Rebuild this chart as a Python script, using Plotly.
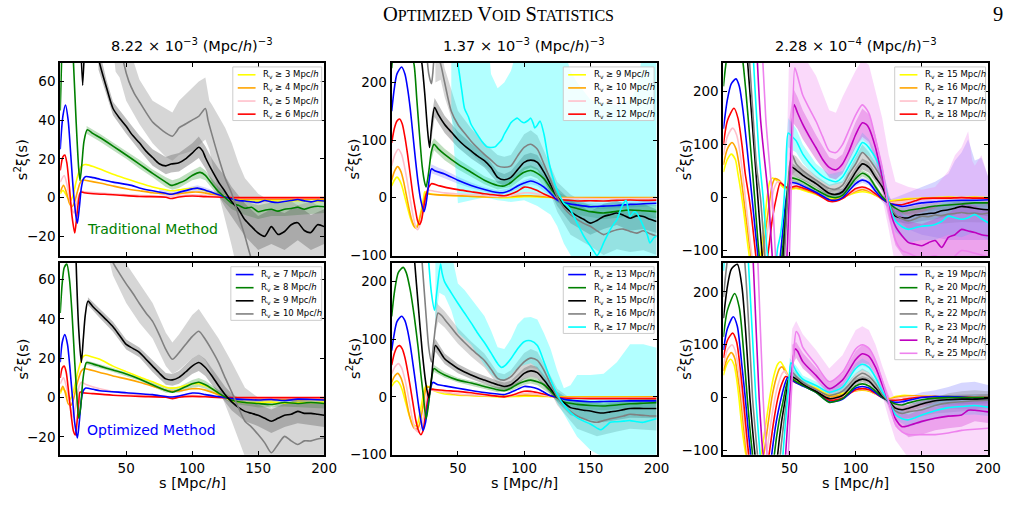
import plotly.graph_objects as go

W, H = 1026, 505

# ---------------- colours ----------------
COLORS = {'yellow': '#FFFF00', 'orange': '#FFA500', 'pink': '#FFC0CB', 'red': '#FF0000',
          'blue': '#0000FF', 'green': '#008000', 'black': '#000000', 'gray': '#808080',
          'cyan': '#00FFFF', 'magenta': '#BF00BF', 'violet': '#EE82EE'}

# ---------------- text ----------------
HEADER = 'O<span style="font-size:16px">PTIMIZED</span> V<span style="font-size:16px">OID</span> S<span style="font-size:16px">TATISTICS</span>'
PAGE_NO = '9'
COL_TITLES = ['8.22 × 10<sup>−3</sup> (Mpc/<i>h</i>)<sup>−3</sup>',
              '1.37 × 10<sup>−3</sup> (Mpc/<i>h</i>)<sup>−3</sup>',
              '2.28 × 10<sup>−4</sup> (Mpc/<i>h</i>)<sup>−3</sup>']
YLABEL = 's<sup>2</sup>ξ(s)'
XLABEL = 's [Mpc/<i>h</i>]'
X_TICKS = [50, 100, 150, 200]
Y_TICKS_1 = [-20, 0, 20, 40, 60]
Y_TICKS_23 = [-100, 0, 100, 200]

TL_RADII = [3, 4, 5, 6]
BL_RADII = [7, 8, 9, 10]
TM_RADII = [9, 10, 11, 12]
BM_RADII = [13, 14, 15, 16, 17]
TR_RADII = [15, 16, 17, 18]
BR_RADII = [19, 20, 21, 22, 23, 24, 25]

# ================= top-left (traditional, 8.22e-3) =================
TL_YELLOW = [(0,2),(2,3.7),(4,2),(6,-0.5),(8,-1.4),(10,2),(12,8),(14,13),(16,16),(18,17),(20,17),(25,16),(30,14.7),(40,12),(50,9.7),(60,7.5),(70,5.5),(80,4),(85,3.5),(90,4),(100,4.8),(105,4.6),(110,3.5),(120,1.5),(130,-0.5),(140,-1.5),(150,-1.8),(160,-1.5),(170,-2),(180,-1.5),(190,-2),(200,-1.8)]
TL_ORANGE = [(0,3),(2.5,6.3),(5,2),(7,-3),(9,-4.7),(11,-2),(13,3),(15,7.5),(17,9.2),(20,8.8),(30,7.5),(40,6),(50,4.6),(60,3.5),(70,2.5),(80,2),(85,1.8),(90,2),(100,2.8),(105,2.8),(110,2.3),(120,1),(130,-0.3),(140,-0.8),(160,-0.8),(180,-0.8),(200,-0.8)]
TL_PINK = [(0,8),(3,11.4),(5,7),(7,0),(9,-6),(10.5,-8),(12,-4),(14,1),(16,3.2),(20,2.8),(30,2.3),(50,1.5),(80,0.6),(100,1.5),(110,1.2),(130,0),(150,-0.2),(200,-0.2)]
TL_RED = [(0,14),(2,21),(3.5,22),(5,18),(7,5),(9,-10),(11,-18.3),(12.5,-10),(14,-1),(15.5,2.9),(18,2.5),(25,2),(40,1.5),(60,0.6),(80,0.2),(84,-0.5),(90,0.3),(100,0.8),(110,0.5),(130,0),(150,0),(200,0)]
TL_BLUE = [(0,25),(2,42),(4,47.8),(6,40),(8,22),(10,3),(12,-10),(13,-13.2),(14.5,-5),(16,5),(17.5,9.5),(19,10.8),(25,10.3),(30,9.5),(40,8),(54,6.3),(60,5),(70,3.5),(80,2.2),(84,1.7),(90,2.7),(100,4.5),(104,4.9),(110,3.8),(120,1.5),(129,-0.5),(135,-1.5),(140,-1.8),(150,-2.5),(155,-1.5),(160,-2.2),(165,-2.5),(170,-2),(175,-1.5),(180,-1),(185,-1.7),(190,-2.2),(195,-1.5),(200,-1.8)]
TL_GREEN = [(0,45),(2,95),(4,125),(6,120),(8,95),(10,70),(12,40),(14,15),(15,8.8),(16.5,18),(18,29),(20.5,35),(25,33),(30,31),(40,26.6),(50,22),(60,17.3),(70,12.5),(80,8),(84,6.3),(90,7.5),(95,9),(100,11.4),(106,13),(110,11.5),(115,7.1),(120,3),(125,0),(130,-3),(135,-4),(140,-5.5),(145,-5),(150,-7.3),(155,-6.5),(160,-6),(165,-7),(170,-6),(175,-5.6),(180,-5),(185,-6),(190,-5),(195,-4.5),(200,-4.7)]
TL_BLACK = [(0,150),(5,250),(10,220),(13,150),(15,90),(17,58),(18.5,80),(20,120),(25,100),(29,72),(35,57),(40,46),(45,41),(50,36.8),(55,32),(60,28.3),(65,24),(70,20.7),(75,17.5),(80,16.4),(84,17.3),(90,18),(95,20),(100,23),(105,26),(108,24),(110,20.7),(115,14),(120,8),(125,3),(130,-2.2),(135,-6),(140,-11.5),(145,-15),(150,-18.3),(155,-20),(160,-15),(165,-19),(170,-17.5),(175,-14),(180,-13),(185,-17),(190,-18),(195,-14),(200,-15)]
TL_GRAY = [(30,140),(40,100),(45,85),(48,70),(52,60),(56,54),(60,49.5),(65,44),(70,39),(75,36),(80,33.4),(85,31.7),(88,34),(90,36),(95,38),(100,40),(105,42),(110,46),(112,40),(115,32.5),(120,20.7),(125,10),(130,2),(135,-9),(140,-20),(145,-32),(150,-40),(160,-45),(170,-42),(180,-48),(190,-44),(200,-46)]
TL_BLUE_BAND = [(75,1.5,4.5),(84,0.5,3),(90,1.2,4.2),(100,3,6),(104,3.4,6.4),(110,2.4,5.2),(120,0.5,2.5)]
TL_GREEN_BAND = [(20,33,37),(30,29,33),(40,24.5,28.5),(50,20,24),(60,15,19.5),(70,10.5,14.5),(80,5.5,10.5),(85,4,9),(90,5,10),(100,9,14),(106,10,16),(110,9,14),(115,4.5,9.5),(120,0.5,5.5),(130,-6,0),(140,-9,-2),(150,-11,-4),(160,-9.5,-2.5),(170,-9.5,-2.5),(180,-9,-1),(190,-8.5,-1.5),(200,-8,-1.5)]
TL_BLACK_BAND = [(29,66,78),(35,53,61),(40,42.5,49.5),(50,33,40.5),(60,24.5,32),(70,16.5,25),(80,12,21),(84,13,22),(90,13.5,23),(100,18,28),(105,20.5,31.5),(110,15,26.5),(115,8,20),(120,1,15),(125,-5,11),(130,-10,5.5),(140,-20,-3),(150,-27,-9.5),(160,-24,-6),(170,-27,-8),(180,-22,-4),(190,-27,-9),(200,-24,-6)]
TL_GRAY_BAND = [(38,90,140),(42,65,130),(45,62,115),(50,50,82),(60,38,61),(70,28,50),(80,21,46),(85,19,44),(90,22,50),(100,24,57),(105,27,60),(110,30,62),(113,25,50),(115,18,48),(120,2,42),(125,-12,36),(130,-25,28),(135,-40,18),(140,-50,10),(150,-70,2),(160,-75,-2),(170,-70,0),(180,-78,-4),(190,-75,-2),(200,-78,-6)]

# ================= bottom-left (optimized, 8.22e-3) =================
BL_YELLOW = [(0,2),(2,4.5),(4,3),(6,0),(7,-1),(9,1),(11,6),(13,12),(15,17),(17,20.5),(19,21.5),(25,20.5),(30,19.5),(40,16),(50,13.2),(60,10.5),(70,8),(80,5.3),(85,4.8),(90,5.3),(100,7),(105,7),(110,6),(115,4.5),(120,2),(125,0),(130,-1.5),(140,-2.5),(150,-2.5),(160,-2.3),(170,-2.8),(180,-2.5),(190,-2.5),(200,-2.2)]
BL_ORANGE = [(0,3),(2,5.8),(4,2),(6,-3),(8,-4),(10,-1),(12,5),(14,10),(16,13.5),(18,14.8),(22,14.2),(30,12.8),(40,11),(50,9.5),(60,7.8),(70,5.8),(80,3.7),(85,3.2),(90,3.4),(100,4.5),(105,4.5),(110,3.8),(120,1.5),(125,0),(130,-0.5),(150,-1),(200,-1)]
BL_PINK = [(0,7),(2.5,10),(4.5,6),(6.5,-1),(8.5,-7),(10,-10),(11.5,-5),(13,1),(14.5,6),(16,7.8),(20,6.5),(30,4.5),(50,2),(80,0.6),(85,0.4),(100,1.2),(110,0.8),(125,0),(150,-0.3),(200,-0.3)]
BL_RED = [(0,10),(1.5,15),(3,16),(4.5,13),(6.5,2),(8.5,-10),(10,-17),(11.5,-19),(12.5,-14),(14,-3),(15,2.8),(17,2.5),(25,2),(40,1.2),(60,0.6),(80,0.2),(85,-0.5),(90,0.2),(100,0.6),(110,0.4),(125,0),(150,0),(200,0)]
BL_BLUE = [(0,18),(1.5,28),(3.5,32),(5.5,27),(7.5,14),(9.5,-2),(11,-13),(13,-20.5),(14.5,-12),(16,-1),(17.5,3.5),(19,4.8),(25,4.2),(30,3.5),(50,2.5),(70,1.5),(84,0.3),(90,0.8),(100,2.3),(105,2.2),(110,1.5),(120,0.5),(125,0),(130,-0.5),(140,-1),(150,-1.2),(160,-1),(170,-1.5),(180,-0.8),(190,-1),(200,-1.2)]
BL_GREEN = [(0,43),(1.5,58),(3,66),(5,67.8),(7,60),(9,42),(11,18),(12.5,2),(14,-10.5),(15.5,-5),(17,8),(18.5,15),(20,17.8),(25,17),(30,16),(40,14),(50,12),(60,9.5),(70,6.5),(80,3.7),(85,2.8),(90,4),(95,5.5),(100,7),(105,7.8),(110,6.5),(115,4.5),(120,2.3),(125,0.3),(130,-1.3),(140,-2.5),(150,-3),(160,-3.5),(170,-2.5),(180,-3),(190,-2.5),(200,-3)]
BL_BLACK = [(0,120),(4,200),(8,180),(11,100),(12,70),(14,35),(16,17.8),(17.5,30),(19,42),(21,49),(25,46),(30,42.8),(35,39.5),(40,36),(45,31.5),(50,27),(55,25),(60,23),(65,19.5),(70,16),(75,12.5),(80,9.5),(85,9),(90,10.3),(95,13),(100,16),(105,17.8),(110,15.3),(115,11),(120,6),(125,1.5),(130,-2.2),(135,-5),(140,-7),(145,-8),(150,-9),(155,-10.5),(160,-12),(165,-10.5),(170,-9),(175,-8.5),(180,-7),(185,-8),(190,-8),(195,-8.5),(200,-9)]
BL_GRAY = [(25,130),(30,110),(35,85),(39,70),(45,63),(50,57.8),(55,53),(60,47.8),(65,43),(70,38.7),(75,32),(80,24.5),(85,19.5),(90,22.8),(95,27),(100,31),(105,33.7),(110,29.5),(115,24),(120,17.8),(125,10),(130,2.8),(135,-5),(140,-12),(145,-15),(150,-18.8),(155,-23),(160,-28),(165,-23.8),(170,-19.7),(175,-22),(180,-23.8),(185,-22),(190,-22),(195,-21),(200,-20.5)]
BL_GREEN_BAND = [(20,16.8,18.8),(40,13,15),(60,8.5,10.5),(80,2.5,5),(90,2.5,5.5),(100,5,9),(105,5.5,10),(110,4.5,8.5),(120,0.8,3.8),(130,-3,0.4),(150,-5,-1),(170,-4.5,-0.5),(200,-5.5,-0.5)]
BL_BLACK_BAND = [(21,47,51),(30,40.5,45),(40,33.5,38.5),(50,24.5,29.5),(60,20.5,25.5),(70,13,19),(80,6.5,12.5),(85,6,12),(90,7,13.5),(100,12,20),(105,13.5,22),(110,11,19.5),(120,2,10),(125,-2.5,5.5),(130,-6.5,2),(140,-12,-2),(150,-14.5,-3.5),(160,-18,-6),(170,-15,-3),(180,-13,-1),(190,-14,-2),(200,-15,-3)]
BL_GRAY_BAND = [(35,75,100),(40,62,82),(50,48,68),(60,38,58),(70,30,48),(80,16,33),(85,12,28),(90,14,32),(100,20,42),(105,22,45),(110,19,40),(120,5,30),(130,-12,18),(140,-30,5),(150,-40,0),(160,-48,-5),(170,-42,-2),(180,-46,-3),(190,-44,-2),(200,-43,-1)]

# ================= top-middle (traditional, 1.37e-3) =================
TM_YELLOW = [(0,20),(2,30),(4,35.4),(6,30),(8,18),(10,0),(12,-18),(14,-35),(16,-47),(18,-53),(20,-45),(22,-25),(24,-2),(25,9.7),(27,8),(30,6),(40,4),(50,3),(60,2),(80,0),(85,-0.5),(90,0),(100,1.5),(105,1.5),(110,1),(120,0),(125,-0.5),(150,-0.5),(200,-0.5)]
TM_ORANGE = [(0,30),(2,45),(4.5,53.7),(7,45),(9,28),(11,5),(13,-18),(15,-38),(17,-50),(18.5,-53),(20,-48),(22,-30),(24,-10),(26,6.9),(28,6),(35,4.5),(50,3),(80,1),(100,3),(105,3),(115,1.5),(125,0),(150,0),(200,0)]
TM_PINK = [(0,55),(2.5,75),(5,84),(7.5,75),(10,50),(12,25),(14,-3),(16,-30),(18,-50),(19.5,-56),(21,-50),(23,-30),(25,-10),(26.5,5),(28,12.6),(32,11),(40,8),(50,6),(70,3.5),(80,2),(85,1.8),(90,3),(100,8),(105,8),(110,6),(120,2),(125,-1),(140,-2),(200,-2)]
TM_RED = [(0,95),(2,120),(4,133),(6,136.6),(8,128),(10,105),(12,75),(14,40),(16,5),(18,-22),(19.5,-40),(21,-47),(22.5,-40),(24,-20),(26,5),(28,18),(30,24),(35,21),(40,18),(50,13.7),(60,10),(70,6.5),(80,4),(85,3),(90,6),(95,11),(100,18),(105,16.6),(110,12),(115,6),(120,1),(125,-3.4),(130,-4.5),(140,-6),(150,-5.7),(160,-6),(170,-5),(180,-4.5),(190,-5),(200,-4.6)]
TM_BLUE = [(0,150),(2,190),(4,215),(7.5,227),(10,215),(12,190),(14,155),(16,110),(18,65),(20,25),(22,-5),(24.4,-24.6),(26,-10),(28,25),(30,49.7),(33,46),(40,41),(50,30),(60,21),(70,14),(80,8.6),(85,8.6),(90,13),(95,20),(100,25),(105,28.6),(110,25),(115,18),(120,7),(125,-4.6),(130,-9),(140,-13),(150,-16),(160,-15),(170,-14),(175,-13),(180,-12),(190,-11),(200,-10)]
TM_GREEN = [(0,225),(3,290),(7,320),(11,300),(14,260),(17,230),(19,170),(21,110),(23,55),(25,25),(26,18.3),(28,45),(30,80),(32,92.6),(35,85),(40,75),(50,58),(60,44),(70,30),(80,21),(85,20),(90,26),(95,36),(100,44),(105,47),(110,42),(115,32.6),(120,16),(125,1),(130,-10),(135,-16),(140,-19),(150,-24.6),(160,-27),(170,-24),(180,-21.7),(190,-23),(200,-24.6)]
TM_BLACK = [(0,300),(10,400),(18,330),(21,260),(23,230),(25,180),(27,120),(28.6,86.9),(30,120),(32.4,156.6),(35,145),(40,127),(45,114),(50,101),(55,90),(60,81),(65,72),(70,64),(75,52),(80,35),(85,30.9),(90,35),(95,48),(100,61),(105,65),(110,61),(115,44),(120,22),(125,1),(130,-14),(135,-24.6),(140,-32),(145,-38),(150,-44.6),(155,-40),(160,-33),(165,-30),(170,-27),(175,-31),(180,-36),(185,-32),(190,-33),(195,-38),(200,-41.7)]
TM_GRAY = [(0,400),(20,400),(26,260),(28,215),(30,198),(31,215),(33,260),(37,232),(40,200),(45,150),(50,127),(55,112),(60,98),(65,86),(70,75),(75,65),(80,55),(85,52.6),(90,55),(95,72),(100,87),(105,92.6),(110,84),(115,58),(120,30),(125,1),(130,-18),(135,-30),(140,-38),(145,-45),(150,-50),(155,-58),(160,-64.6),(165,-60),(170,-56),(175,-55),(180,-59),(185,-62),(190,-58),(195,-63),(200,-67)]
TM_CYAN = [(35,400),(45,300),(50,233),(53,185),(55,155),(58,140),(60,127),(64,112),(68,98),(72,88),(75,87),(78,88),(80,92.6),(83,100),(85,110),(88,122),(90,130),(93,136),(95,138),(98,132),(100,130),(103,134),(105,138),(107,128),(108,121),(110,126),(112,133),(115,110),(118,70),(121,40),(125,12.6),(128,-2),(130,-10),(133,-15),(135,-21.7),(138,-35),(140,-44.6),(143,-58),(145,-67),(148,-78),(150,-84.6),(153,-95),(155,-101),(158,-90),(160,-79),(163,-65),(165,-56),(168,-45),(170,-39),(173,-20),(175,-10),(177,-5),(180,-33),(183,-25),(185,-27),(188,-40),(190,-50),(193,-65),(195,-79),(198,-70),(200,-67)]
TM_BLUE_BAND = [(28,15,35),(30,42,58),(35,38,52),(40,34,48),(50,24,36),(60,16,26),(70,10,18),(80,5,12),(90,9,17),(100,20,30),(105,23,34),(110,20,30),(120,2,12),(125,-9,0),(140,-18,-8),(160,-20,-10),(180,-17,-7),(200,-15,-5)]
TM_GREEN_BAND = [(30,65,95),(32,82,103),(40,65,85),(50,49,67),(60,36,52),(70,23,37),(80,14,28),(90,18,34),(100,35,53),(105,38,56),(110,33,51),(120,6,26),(125,-8,10),(140,-30,-8),(160,-38,-16),(180,-33,-10),(200,-36,-13)]
TM_BLACK_BAND = [(30,100,140),(32.4,140,173),(40,112,142),(50,87,115),(60,68,94),(70,52,76),(80,25,45),(85,21,41),(90,24,46),(100,48,74),(105,52,78),(110,48,74),(120,8,36),(125,-15,17),(135,-45,-5),(150,-65,-24),(160,-55,-11),(170,-48,-6),(180,-58,-14),(190,-55,-11),(200,-62,-21)]
TM_GRAY_BAND = [(33,200,330),(37,205,260),(40,175,225),(50,103,151),(60,76,120),(70,55,95),(80,36,74),(85,34,71),(90,36,74),(100,64,110),(105,68,117),(110,60,108),(120,5,55),(125,-25,27),(135,-65,5),(150,-85,-15),(160,-100,-30),(170,-90,-22),(180,-95,-23),(190,-92,-24),(200,-100,-34)]
TM_CYAN_BAND = [(45,150,400),(50,-10,400),(60,-5,400),(70,0,350),(75,-2,215),(80,-5,190),(85,-6,200),(90,-8,220),(95,-6,260),(100,-5,300),(110,-15,320),(120,-30,300),(125,-50,300),(130,-80,260),(135,-100,220),(140,-130,200),(150,-140,170),(160,-140,165),(170,-140,160),(180,-140,170),(185,-140,190),(190,-140,260),(200,-140,260)]

# ================= bottom-middle (optimized, 1.37e-3) =================
BM_YELLOW = [(0,18),(2,25),(4,28),(6,23),(8,12),(10,-5),(12,-22),(14,-37),(16,-47),(18.5,-50),(20,-43),(22,-20),(24,5),(25,15),(26,19),(28,17),(30,13),(35,8),(40,5),(50,3),(60,2),(80,0),(100,1),(110,1),(125,0),(200,0)]
BM_ORANGE = [(0,25),(2,35),(4.5,40.7),(7,33),(9,18),(11,-5),(13,-28),(15,-45),(17,-54),(19.5,-55),(21,-48),(23,-25),(25,5),(26,15),(28,17),(30,14),(40,8),(50,4),(80,1.5),(100,3),(110,2.5),(125,0),(200,0)]
BM_PINK = [(0,40),(2.5,52),(5,57.6),(7.5,50),(10,30),(12,8),(14,-18),(16,-42),(18,-57),(20.5,-61),(22,-55),(24,-35),(26,-5),(27,8),(28,12.4),(32,11),(40,8),(50,5),(70,2.5),(80,1),(85,0.5),(90,2),(100,6),(105,6),(110,4.5),(120,1),(125,-1),(140,-2),(200,-2)]
BM_RED = [(0,55),(2,75),(4,86),(6,88.7),(8,83),(10,68),(12,45),(14,18),(16,-10),(18,-38),(20,-57),(22,-65.5),(23.5,-60),(25,-40),(27,-8),(29,12.4),(31,13),(40,11),(50,9.6),(60,7),(70,4),(80,1),(85,0),(90,2.5),(100,9.6),(105,9.6),(110,7.5),(120,2),(125,-1),(130,-2),(150,-3),(200,-3)]
BM_BLUE = [(0,80),(2,110),(4,130),(7.5,139.5),(10,132),(12,115),(14,90),(16,58),(18,25),(20,-10),(22,-40),(23.7,-58),(25.5,-45),(27,-20),(29,10),(31,25),(35,21),(40,19),(50,15),(60,11),(70,7.5),(80,5),(85,4),(90,8),(95,13),(100,18),(105,17),(110,14),(115,8),(120,2),(125,-1),(130,-4),(140,-7),(150,-8.5),(160,-8),(170,-7.5),(180,-7),(190,-7),(200,-7)]
BM_GREEN = [(0,139),(2,180),(5,215),(8.7,224),(11,215),(14,185),(17,140),(20,85),(22,40),(24,0),(26,-38),(28,-10),(30,30),(32,49),(35,44),(40,38),(50,29),(60,24),(70,18),(80,12.4),(85,10.7),(90,15),(95,22),(100,26.5),(105,29),(110,26),(115,21),(120,10),(125,-1.7),(130,-9),(140,-13),(150,-15),(160,-15.8),(170,-14),(180,-12),(190,-11),(200,-10)]
BM_BLACK = [(0,350),(10,420),(15,300),(17.4,232),(20,160),(23,80),(26,20),(28,-1.7),(30,30),(33,88.7),(36,80),(40,66),(45,57),(50,49),(55,43),(60,38),(65,33),(70,29),(75,25),(80,21),(85,18),(90,21),(95,30),(100,40.7),(105,45),(110,42),(115,29),(120,14),(125,0),(130,-10),(135,-18.6),(140,-21),(145,-23),(150,-24.3),(155,-27),(160,-28),(165,-26),(170,-24.3),(175,-22),(180,-20),(190,-20),(200,-20)]
BM_GRAY = [(0,450),(15,450),(20,320),(23,232),(26,140),(28,85),(30,60.5),(32,100),(35,145),(38,140),(40,134),(45,120),(50,105.6),(55,94),(60,83),(65,73),(70,63),(75,48),(80,32),(85,29),(90,35),(95,48),(100,60.5),(105,67),(110,63),(115,46),(120,22),(125,0),(130,-15),(135,-25),(140,-33),(145,-38),(150,-42),(155,-44),(160,-41),(165,-38),(170,-35.6),(175,-33),(180,-30),(185,-31),(190,-32),(195,-33),(200,-33)]
BM_CYAN = [(20,450),(26,300),(28,232),(30,180),(32.4,150),(34,180),(36.9,230),(38,215),(40,199),(45,180),(50,162),(55,145),(60,128),(65,110),(70,94),(75,76),(80,57.6),(83,51),(86,55),(90,66),(95,83),(100,95.5),(105,97),(110,88.7),(115,60.5),(120,30),(125,4),(130,-14),(135,-27),(140,-36),(145,-42),(150,-47),(155,-54),(158,-57),(162,-50),(165,-44),(170,-43),(175,-42),(180,-41),(185,-43),(190,-44),(195,-41),(200,-38)]
BM_GREEN_BAND = [(32,43,55),(40,33,43),(50,25,33),(60,20,28),(80,8,17),(90,10,20),(100,21,32),(105,23,35),(110,20,32),(120,4,16),(125,-7,4),(140,-20,-6),(160,-23,-9),(180,-19,-5),(200,-17,-3)]
BM_BLACK_BAND = [(31,50,90),(33,78,100),(40,57,75),(50,41,57),(60,31,45),(70,22,36),(80,14,28),(85,11,25),(90,14,28),(100,31,50),(105,35,55),(110,32,52),(120,5,23),(125,-9,9),(135,-32,-5),(150,-40,-9),(160,-44,-12),(170,-40,-9),(180,-36,-4),(190,-36,-4),(200,-37,-3)]
BM_GRAY_BAND = [(33,110,170),(35,130,160),(40,120,148),(50,92,119),(60,70,96),(70,51,75),(80,22,42),(85,19,39),(90,24,46),(100,45,76),(105,51,83),(110,48,78),(120,8,36),(125,-14,14),(140,-55,-11),(155,-68,-20),(160,-65,-17),(170,-60,-11),(180,-55,-5),(190,-57,-7),(200,-58,-8)]
BM_CYAN_BAND = [(33,130,300),(36,180,300),(40,175,300),(45,150,250),(50,111,196),(55,100,185),(60,90,170),(70,55,140),(75,40,115),(80,29,86),(85,28,83),(90,38,100),(95,50,125),(100,55,137),(105,58,138),(110,50,134),(115,32,110),(120,15,83),(125,-10,45),(130,-30,15),(135,-50,20),(140,-69,38),(150,-92,38),(160,-105,40),(170,-110,60),(180,-110,91),(190,-110,91),(200,-110,85)]

# ================= top-right (traditional, 2.28e-4) =================
TR_YELLOW = [(0,48),(3,72),(6,82),(9,72),(11,45),(13,15),(15,-20),(17,-60),(19,-100),(22,-140),(25,-145),(28,-110),(31,-50),(33,0),(35,30),(37,37),(40,33),(43,25),(46,18),(50,16),(55,17),(60,14),(65,10),(70,6),(75,1),(80,-2),(85,-2),(90,1),(95,5),(100,9),(105,11),(110,9),(115,4),(120,-2),(125,-6),(130,-5),(135,-3),(140,-2),(150,-1),(160,0),(170,1),(180,0),(190,1),(200,0)]
TR_ORANGE = [(0,62),(3,92),(6.5,104),(9.5,92),(12,60),(14,25),(16,-15),(18,-55),(20,-95),(23,-140),(26,-150),(29,-120),(32,-60),(35,-5),(37,25),(39,36),(42,33),(45,24),(48,18),(50,18),(55,19),(60,16),(70,7),(80,-4),(85,-4),(90,0),(100,12),(105,15),(110,12),(115,5),(120,-3),(125,-8),(130,-7),(135,-5),(140,-4),(150,-2),(160,-1),(170,0),(180,-1),(190,0),(200,-1)]
TR_PINK = [(0,80),(3,115),(7,131),(10,118),(12.5,85),(15,35),(17,-10),(19,-55),(21,-100),(24,-150),(27,-160),(30,-130),(33,-70),(36,-15),(38,15),(41,30),(44,27),(47,20),(50,20),(55,21),(60,18),(70,8),(80,-5),(85,-6),(90,-1),(100,14),(105,18),(110,14),(115,6),(120,-3),(125,-9),(130,-9),(135,-8),(140,-6),(150,-3),(160,-2),(170,-2),(180,-2),(190,-2),(200,-2)]
TR_RED = [(0,100),(3,145),(8,168.5),(11,150),(14,100),(16.5,45),(19.4,0),(21,-30),(23,-75),(25,-120),(28,-160),(31,-150),(34,-100),(37,-40),(40,0),(43,28),(46,22),(49,18),(52,20),(55,22),(60,18),(70,8),(80,-7),(85,-7),(90,-2),(100,17),(105,20),(110,16),(115,7),(120,-3),(125,-10),(130,-13),(135,-13.6),(140,-10),(145,-6),(150,-2),(160,-1),(170,-1),(180,0),(190,-1),(200,-1)]
TR_BLUE = [(0,130),(3,185),(6,215),(9.5,224),(12,210),(15,160),(18,90),(21.6,0),(24,-60),(27,-130),(30,-180),(34,-200),(38,-180),(42,-130),(45,-60),(47,-10),(49,20),(51,28),(55,27),(60,22),(70,10),(80,-4),(85,-5),(90,0),(100,26.5),(105,33),(110,28),(115,12),(120,-2),(125,-10),(130,-14),(135,-16.7),(140,-15),(145,-12),(150,-10),(160,-8),(170,-6),(180,-5),(190,-5),(200,-4)]
TR_GREEN = [(0,210),(3,270),(7,300),(11,300),(14,270),(17,200),(20,110),(23.6,0),(26,-80),(30,-180),(34,-230),(38,-220),(42,-160),(45,-90),(47,-30),(49,25),(51,37),(55,35),(60,29.6),(70,15),(80,2),(85,0),(90,4),(100,36),(105,46),(110,39),(115,20),(120,2),(125,-10),(130,-20),(135,-26),(140,-24),(145,-22),(150,-20),(160,-16),(170,-14),(180,-12),(190,-10),(200,-10)]
TR_BLACK = [(0,260),(4,340),(8,380),(12,380),(16,320),(20,200),(23,100),(26,0),(29,-100),(33,-220),(37,-260),(41,-230),(44,-150),(47,-50),(49,20),(51,58),(55,52),(60,42),(70,26.5),(80,8),(85,6),(90,11),(95,28),(100,48),(105,63.6),(110,57),(115,38),(120,20),(125,-10),(130,-35),(135,-38),(140,-38),(145,-33),(150,-32),(155,-30),(160,-29),(165,-25),(170,-23),(175,-20),(180,-16.7),(185,-18),(190,-20),(195,-22),(200,-23)]
TR_GRAY = [(0,300),(5,420),(10,470),(14,430),(18,320),(22,170),(25,60),(28,0),(31,-100),(35,-230),(39,-280),(43,-230),(46,-120),(48,-20),(50,60),(52,80),(55,63.6),(60,51),(70,33),(80,17),(85,16),(90,23),(95,45),(100,63.6),(105,85),(110,73),(115,55),(120,33),(125,-10),(130,-32),(135,-40),(140,-44),(145,-40),(150,-35),(155,-36),(160,-33),(165,-34),(170,-31),(175,-30),(180,-28),(185,-30),(190,-29),(195,-31),(200,-29)]
TR_CYAN = [(0,350),(5,500),(10,560),(15,520),(20,380),(24,200),(27,80),(30,0),(33,-100),(36,-170),(39,-140),(41,-95),(43,-72),(45,-30),(47,40),(49,122),(52,115),(55,107),(60,82),(65,65),(70,51),(75,40),(80,33),(85,30),(90,39),(95,60),(100,82),(105,104),(108,100),(110,94),(115,75),(120,45),(125,-10),(130,-44),(135,-55),(140,-60),(145,-57),(150,-54),(155,-53),(160,-50.6),(165,-45),(170,-35),(175,-38),(180,-41),(185,-38),(190,-32),(195,-40),(200,-47.5)]
TR_MAGENTA = [(0,450),(8,700),(16,700),(22,450),(28,150),(34,0),(38,-150),(42,-250),(46,-200),(49,-50),(51,80),(53.5,175),(56,160),(60,138),(65,115),(70,94),(75,72),(80,57),(85,52.5),(90,63.6),(95,88),(100,119),(105,141),(108,138),(110,131),(115,94),(120,39),(125,-17),(130,-54),(135,-72),(140,-85),(145,-88),(150,-91),(155,-85),(160,-81),(165,-94),(170,-75),(175,-70),(180,-60),(185,-63),(190,-66),(195,-70),(200,-72)]
TR_VIOLET = [(0,600),(10,900),(18,850),(25,500),(32,150),(37,0),(42,-200),(47,-250),(50,-100),(52,100),(54,245),(57,220),(60,193),(65,168),(70,144),(75,115),(80,88),(85,85),(90,100),(95,128),(100,156),(105,175),(110,159),(115,110),(120,57),(125,-23),(130,-80),(135,-100),(140,-105),(150,-115),(160,-110),(170,-120),(180,-100),(190,-105),(200,-112)]
TR_BLUE_BAND = [(50,24,36),(60,17,27),(80,-8,0),(100,21,32),(105,28,38),(110,23,33),(120,-8,4),(125,-20,-4),(130,-35,0),(140,-60,10),(150,-70,20),(160,-75,30),(170,-80,45),(175,-80,70),(180,-80,85),(185,-80,110),(190,-80,70),(195,-80,75),(200,-80,40)]
TR_GREEN_BAND = [(50,30,44),(60,24,35),(70,10,20),(80,-3,7),(90,-1,9),(100,30,42),(105,40,52),(110,33,45),(120,-3,7),(125,-15,-5),(135,-33,-19),(150,-27,-13),(170,-21,-7),(200,-17,-3)]
TR_BLACK_BAND = [(50,45,68),(60,33,51),(70,19,34),(80,2,14),(90,5,17),(100,38,58),(105,53,74),(110,47,67),(120,12,28),(125,-17,-3),(130,-45,-25),(140,-50,-26),(150,-44,-20),(160,-41,-17),(170,-35,-11),(180,-29,-5),(190,-32,-8),(200,-35,-11)]
TR_GRAY_BAND = [(50,40,85),(55,50,78),(60,40,62),(70,25,41),(80,10,24),(90,15,31),(100,50,77),(105,70,100),(110,60,86),(120,22,44),(125,-20,0),(130,-45,-19),(140,-60,-28),(150,-52,-18),(160,-50,-16),(170,-48,-14),(180,-46,-10),(190,-47,-11),(200,-47,-11)]
TR_CYAN_BAND = [(47,0,80),(49,95,150),(55,85,130),(60,65,100),(70,38,64),(80,22,44),(90,28,50),(100,65,100),(105,85,123),(110,78,110),(120,30,60),(125,-25,5),(130,-65,-25),(140,-85,-35),(150,-80,-28),(160,-80,-20),(170,-70,0),(180,-75,-5),(190,-65,0),(200,-80,-15)]
TR_MAGENTA_BAND = [(50,-50,150),(53,140,205),(56,130,190),(60,110,165),(70,72,118),(80,38,76),(85,34,72),(90,45,82),(100,95,143),(105,115,168),(110,105,157),(115,70,118),(120,18,60),(125,-40,5),(130,-90,-20),(140,-125,-45),(150,-130,-50),(160,-125,-40),(170,-120,-30),(180,-110,-10),(190,-115,-15),(200,-120,-25)]
TR_VIOLET_BAND = [(48,-150,100),(50,-60,300),(53,150,350),(55,170,300),(60,130,270),(70,90,230),(80,45,165),(85,42,160),(90,55,190),(100,100,240),(105,110,260),(110,100,250),(115,60,200),(120,0,150),(125,-60,80),(130,-130,30),(140,-200,20),(150,-200,15),(160,-200,20),(170,-200,50),(175,-200,80),(180,-200,95),(185,-200,125),(188,-200,70),(190,-200,60),(195,-200,80),(200,-200,40)]

# ================= bottom-right (optimized, 2.28e-4) =================
BR_YELLOW = [(0,42),(2.5,63),(5.5,72.6),(8,62),(10,35),(11.7,0),(13.5,-45),(15.5,-85),(17.5,-115),(20,-145),(23,-155),(26,-135),(29,-100),(32,-50),(35,0),(38,40),(41,63),(43,67.7),(46,57),(49,42),(52,35),(55,30),(60,26),(70,18),(80,5),(90,8),(100,13),(105,14),(110,12),(115,7),(120,2),(125,-2),(130,2),(135,4),(140,4),(150,3),(160,2),(170,2),(180,1),(190,1),(200,1)]
BR_ORANGE = [(0,50),(3,75),(6,85),(8.5,75),(11,38),(13,0),(15,-50),(17,-95),(19.5,-140),(23,-165),(27,-150),(30.5,-108),(34,-45),(37,5),(40,38),(42.5,55),(44.5,58),(47,48),(50,38),(52,35),(55,30),(60,25),(70,16),(80,2),(90,5),(100,13),(105,15),(110,13),(115,7),(120,1),(125,-3),(130,0),(135,2),(140,3),(150,3),(160,2),(170,1),(180,1),(190,0),(200,0)]
BR_PINK = [(0,60),(3,90),(6.5,100),(9,88),(12,42),(14,0),(16,-52),(18,-100),(21,-150),(25,-175),(29,-160),(32.5,-108),(36,-45),(39,0),(42,30),(44.5,46),(46.5,50),(49,40),(52,33),(55,29),(60,24),(70,14),(80,-2),(90,2),(100,14),(105,16),(110,14),(115,7),(120,0),(125,-4),(130,-2),(135,0),(140,1),(150,2),(160,2),(170,1),(180,1),(190,0),(200,0)]
BR_RED = [(0,75),(3,108),(7,122),(10,105),(13,48),(15,0),(17,-55),(19,-105),(22.5,-170),(27,-190),(31,-165),(34.5,-108),(38,-45),(41,-3),(44,25),(47,40),(49.5,37),(52,32),(55,28),(60,23),(70,12),(80,-5),(90,-1),(100,15),(105,17),(110,15),(115,8),(120,0),(125,-5),(130,-5),(135,-4),(140,-2),(150,1),(160,2),(170,1),(180,1),(190,0),(200,0)]
BR_BLUE = [(0,90),(3,130),(7.5,153),(10.5,135),(14,60),(16.5,0),(18.5,-55),(20.5,-105),(24.5,-185),(29.5,-210),(33.5,-180),(36.5,-108),(40,-45),(43,-8),(46,22),(48.5,38),(50.5,36),(53,31),(55,28),(60,22),(70,10),(80,-8),(90,-3),(100,18),(105,21),(110,18),(115,9),(120,0),(125,-6),(130,-9),(135,-8),(140,-5),(150,0),(160,2),(170,2),(180,1),(190,0),(200,0)]
BR_GREEN = [(0,115),(3,165),(8.5,197),(12,170),(15.5,80),(18,0),(20,-58),(22,-108),(26.5,-205),(31.5,-230),(36,-190),(38.5,-108),(42,-45),(45,-8),(47.5,22),(49.5,36),(52,35),(55,30),(60,23),(70,10),(80,-9),(90,-2),(100,22),(105,26),(110,22),(115,12),(120,1),(125,-6),(130,-12),(135,-14),(140,-10),(150,-4),(160,-1),(170,0),(180,0),(190,0),(200,0)]
BR_BLACK = [(0,150),(3,210),(6,243),(10.5,252),(14,210),(17.5,100),(20,0),(22,-60),(24,-112),(29,-230),(34,-250),(38.5,-190),(41,-108),(44,-45),(47,0),(49,28),(50.5,40),(53,38),(55,35),(60,26),(70,12),(80,-2),(90,4),(100,30),(105,35),(110,31),(115,18),(120,3),(125,-7),(130,-20),(135,-23),(140,-20),(150,-12),(160,-6),(170,-4),(180,-3),(190,-3),(200,-2)]
BR_GRAY = [(0,190),(4,280),(8,325),(12,330),(16,260),(19.5,120),(22,0),(24,-60),(26,-115),(31,-250),(36,-270),(41,-200),(43,-108),(46,-40),(48.5,10),(50.5,45),(52,48),(55,40),(60,29),(70,15),(80,4),(90,12),(100,38),(105,46),(110,40),(115,26),(120,6),(125,-8),(130,-25),(135,-30),(140,-27),(150,-23),(160,-15),(170,-10),(180,-8),(190,-6),(200,-5)]
BR_CYAN = [(0,240),(4,360),(9,415),(13,420),(17,330),(21,160),(24.5,0),(26.5,-70),(28,-115),(33,-260),(38,-290),(43,-210),(45,-108),(47.5,-30),(49.5,30),(51,66),(53,60),(55,50),(60,35),(70,23),(80,10),(90,20),(100,55),(105,63),(110,57),(115,38),(120,12),(125,-8),(130,-32),(135,-40),(140,-42),(145,-38),(150,-33),(160,-25),(170,-19),(180,-17),(190,-15),(200,-18)]
BR_MAGENTA = [(0,300),(5,460),(10,540),(15,550),(19,440),(23,230),(27,0),(29,-80),(30.5,-120),(36,-280),(41,-300),(45.5,-200),(47,-108),(50,0),(52,55),(54,92),(56,88),(60,68),(70,42),(80,17),(90,33),(100,72),(105,83),(110,78),(115,57),(120,25),(125,-8),(130,-40),(135,-55),(140,-53),(150,-45),(160,-39),(170,-35),(180,-33),(185,-24),(190,-24),(200,-27)]
BR_VIOLET = [(0,370),(5,560),(11,680),(17,700),(22,520),(26,260),(30,0),(32,-80),(33.5,-120),(39,-290),(44,-310),(47.5,-200),(49,-108),(51,-10),(53,80),(55,125),(57,118),(60,95),(70,62),(80,30),(90,48),(100,92),(105,100),(110,93),(115,70),(120,33),(125,-8),(130,-50),(135,-65),(140,-70),(150,-70),(160,-70),(170,-67),(180,-62),(190,-60),(200,-58)]
BR_BLUE_BAND = [(130,-12,-6),(140,-12,2),(150,-14,10),(160,-16,14),(170,-20,20),(180,-22,28),(190,-22,30),(200,-18,24)]
BR_BLACK_BAND = [(50,32,48),(55,30,40),(60,21,31),(70,8,16),(80,-6,2),(90,0,8),(100,24,36),(105,29,41),(110,25,37),(120,-2,8),(125,-12,-2),(130,-26,-14),(135,-30,-16),(140,-27,-13),(150,-19,-5),(160,-14,2),(170,-13,5),(180,-12,6),(190,-12,6),(200,-11,7)]
BR_GRAY_BAND = [(50,35,60),(55,33,47),(60,23,35),(70,10,20),(80,-1,9),(90,6,18),(100,30,46),(105,38,55),(110,32,48),(115,19,33),(120,0,12),(125,-14,-2),(130,-33,-17),(135,-40,-20),(140,-38,-16),(150,-36,-10),(160,-30,0),(170,-28,8),(180,-26,12),(190,-24,14),(200,-22,12)]
BR_CYAN_BAND = [(50,30,75),(55,40,60),(60,28,42),(70,17,30),(80,4,16),(90,13,27),(100,45,65),(105,52,74),(110,47,67),(120,5,20),(125,-15,0),(130,-42,-22),(140,-55,-29),(150,-47,-19),(160,-40,-10),(170,-35,-3),(180,-33,0),(190,-32,5),(200,-35,0)]
BR_MAGENTA_BAND = [(52,60,100),(55,75,105),(60,55,85),(70,33,57),(80,7,28),(90,22,45),(100,58,88),(105,66,100),(110,62,94),(115,44,70),(120,14,36),(125,-20,4),(130,-55,-25),(140,-75,-32),(150,-70,-22),(160,-62,-17),(170,-58,-12),(180,-55,-10),(190,-45,-2),(200,-48,-6)]
BR_VIOLET_BAND = [(50,-50,60),(52,50,130),(55,90,145),(60,60,120),(70,30,90),(80,5,55),(90,15,80),(100,55,128),(105,60,135),(110,55,128),(115,35,100),(120,5,60),(125,-40,25),(130,-80,-5),(140,-115,-15),(150,-120,-12),(160,-120,-10),(170,-118,-5),(180,-115,0),(190,-112,5),(200,-110,0)]

# ---------------- panel assembly (layout in pixels) ----------------
COLS_PX = [(61.0, 328.3), (396.7, 665.0), (732.7, 1000.7)]
ROWS_PX = [(64.0, 260.0), (267.0, 462.0)]

PANELS = [
    dict(ax=1, col=0, row=0, yr=[-30.1, 69.5], yt=Y_TICKS_1,
         curves=[('yellow', TL_YELLOW), ('orange', TL_ORANGE), ('pink', TL_PINK), ('red', TL_RED),
                 ('blue', TL_BLUE), ('green', TL_GREEN), ('black', TL_BLACK), ('gray', TL_GRAY)],
         bands=[('blue', TL_BLUE_BAND), ('green', TL_GREEN_BAND), ('black', TL_BLACK_BAND), ('gray', TL_GRAY_BAND)],
         legend=list(zip(['yellow', 'orange', 'pink', 'red'], TL_RADII))),
    dict(ax=2, col=1, row=0, yr=[-101.6, 234], yt=Y_TICKS_23,
         curves=[('yellow', TM_YELLOW), ('orange', TM_ORANGE), ('pink', TM_PINK), ('red', TM_RED),
                 ('blue', TM_BLUE), ('green', TM_GREEN), ('black', TM_BLACK), ('gray', TM_GRAY), ('cyan', TM_CYAN)],
         bands=[('blue', TM_BLUE_BAND), ('green', TM_GREEN_BAND), ('black', TM_BLACK_BAND), ('gray', TM_GRAY_BAND), ('cyan', TM_CYAN_BAND)],
         legend=list(zip(['yellow', 'orange', 'pink', 'red'], TM_RADII))),
    dict(ax=3, col=2, row=0, yr=[-110, 254], yt=Y_TICKS_23,
         curves=[('yellow', TR_YELLOW), ('orange', TR_ORANGE), ('pink', TR_PINK), ('red', TR_RED),
                 ('blue', TR_BLUE), ('green', TR_GREEN), ('black', TR_BLACK), ('gray', TR_GRAY),
                 ('cyan', TR_CYAN), ('magenta', TR_MAGENTA), ('violet', TR_VIOLET)],
         bands=[('blue', TR_BLUE_BAND), ('green', TR_GREEN_BAND), ('black', TR_BLACK_BAND), ('gray', TR_GRAY_BAND),
                ('cyan', TR_CYAN_BAND), ('magenta', TR_MAGENTA_BAND), ('violet', TR_VIOLET_BAND)],
         legend=list(zip(['yellow', 'orange', 'pink', 'red'], TR_RADII))),
    dict(ax=4, col=0, row=1, yr=[-29, 68.5], yt=Y_TICKS_1,
         curves=[('yellow', BL_YELLOW), ('orange', BL_ORANGE), ('pink', BL_PINK), ('red', BL_RED),
                 ('blue', BL_BLUE), ('green', BL_GREEN), ('black', BL_BLACK), ('gray', BL_GRAY)],
         bands=[('green', BL_GREEN_BAND), ('black', BL_BLACK_BAND), ('gray', BL_GRAY_BAND)],
         legend=list(zip(['blue', 'green', 'black', 'gray'], BL_RADII))),
    dict(ax=5, col=1, row=1, yr=[-100, 232], yt=Y_TICKS_23,
         curves=[('yellow', BM_YELLOW), ('orange', BM_ORANGE), ('pink', BM_PINK), ('red', BM_RED),
                 ('blue', BM_BLUE), ('green', BM_GREEN), ('black', BM_BLACK), ('gray', BM_GRAY), ('cyan', BM_CYAN)],
         bands=[('green', BM_GREEN_BAND), ('black', BM_BLACK_BAND), ('gray', BM_GRAY_BAND), ('cyan', BM_CYAN_BAND)],
         legend=list(zip(['blue', 'green', 'black', 'gray', 'cyan'], BM_RADII))),
    dict(ax=6, col=2, row=1, yr=[-108, 255], yt=Y_TICKS_23,
         curves=[('yellow', BR_YELLOW), ('orange', BR_ORANGE), ('pink', BR_PINK), ('red', BR_RED),
                 ('blue', BR_BLUE), ('green', BR_GREEN), ('black', BR_BLACK), ('gray', BR_GRAY),
                 ('cyan', BR_CYAN), ('magenta', BR_MAGENTA), ('violet', BR_VIOLET)],
         bands=[('blue', BR_BLUE_BAND), ('black', BR_BLACK_BAND), ('gray', BR_GRAY_BAND), ('cyan', BR_CYAN_BAND),
                ('magenta', BR_MAGENTA_BAND), ('violet', BR_VIOLET_BAND)],
         legend=list(zip(['blue', 'green', 'black', 'gray', 'cyan', 'magenta', 'violet'], BR_RADII))),
]

BAND_ALPHA = {'gray': 0.32, 'black': 0.25, 'cyan': 0.3, 'magenta': 0.3, 'violet': 0.3,
              'blue': 0.16, 'green': 0.25}


def rgba(hexc, a):
    h = hexc.lstrip('#')
    return 'rgba(%d,%d,%d,%.3f)' % (int(h[0:2], 16), int(h[2:4], 16), int(h[4:6], 16), a)


def px_x(x):
    return x / W


def px_y(y):
    return 1 - y / H


fig = go.Figure()
shapes, annots = [], []
layout = {}

for p in PANELS:
    i = p['ax']
    xa, ya = ('x%d' % i), ('y%d' % i)
    for cname, band in p['bands']:
        bx = [b[0] for b in band]
        lo = [b[1] for b in band]
        hi = [b[2] for b in band]
        fig.add_trace(go.Scatter(x=bx + bx[::-1], y=hi + lo[::-1], mode='lines', fill='toself',
                                 fillcolor=rgba(COLORS[cname], BAND_ALPHA[cname]), line=dict(width=0),
                                 xaxis=xa, yaxis=ya, showlegend=False, hoverinfo='skip'))
    for cname, pts in p['curves']:
        fig.add_trace(go.Scatter(x=[q[0] for q in pts], y=[q[1] for q in pts], mode='lines',
                                 line=dict(color=COLORS[cname], width=1.6, shape='spline', smoothing=0.7),
                                 xaxis=xa, yaxis=ya, showlegend=False, hoverinfo='skip'))

    x0, x1 = COLS_PX[p['col']]
    y0, y1 = ROWS_PX[p['row']]
    sfx = '' if i == 1 else str(i)
    common = dict(showline=True, linecolor='black', linewidth=2, mirror='allticks', ticks='inside',
                  ticklen=4, tickwidth=1.3, tickcolor='black', showgrid=False, zeroline=False,
                  tickfont=dict(size=13.5, color='black', family='DejaVu Sans'))
    layout['xaxis' + sfx] = dict(domain=[px_x(x0), px_x(x1)], range=[0, 200], tickvals=X_TICKS,
                                 showticklabels=(p['row'] == 1), anchor=ya, **common)
    layout['yaxis' + sfx] = dict(domain=[px_y(y1), px_y(y0)], range=p['yr'], tickvals=p['yt'],
                                 anchor=xa, **common)

    # legend box (drawn manually to match compact matplotlib legend)
    n = len(p['legend'])
    step = 13.33
    bw = 92 if max(r for _, r in p['legend']) >= 10 else 90
    bx1 = x1 - 2.5
    bx0 = bx1 - bw
    by0 = y0 + 4
    by1 = by0 + 8 + (n - 1) * step + 6.5
    shapes.append(dict(type='rect', xref='paper', yref='paper', x0=px_x(bx0), x1=px_x(bx1),
                       y0=px_y(by1), y1=px_y(by0), line=dict(color='#cccccc', width=1),
                       fillcolor='rgba(255,255,255,0.8)', layer='above'))
    for k, (cname, r) in enumerate(p['legend']):
        yy = by0 + 8 + k * step
        shapes.append(dict(type='line', xref='paper', yref='paper', x0=px_x(bx0 + 5), x1=px_x(bx0 + 23),
                           y0=px_y(yy), y1=px_y(yy), line=dict(color=COLORS[cname], width=1.6), layer='above'))
        annots.append(dict(xref='paper', yref='paper', x=px_x(bx0 + 29), y=px_y(yy), xanchor='left',
                           yanchor='middle', showarrow=False,
                           text='R<sub>v</sub> ≥ %d Mpc/<i>h</i>' % r,
                           font=dict(size=8.5, color='black', family='DejaVu Sans')))

# column titles, axis labels
for c, (x0, x1) in enumerate(COLS_PX):
    annots.append(dict(xref='paper', yref='paper', x=px_x((x0 + x1) / 2), y=px_y(46), xanchor='center',
                       yanchor='middle', showarrow=False, text=COL_TITLES[c],
                       font=dict(size=14.5, color='black', family='DejaVu Sans')))
    annots.append(dict(xref='paper', yref='paper', x=px_x((x0 + x1) / 2), y=px_y(491), xanchor='center',
                       yanchor='middle', showarrow=False, text=XLABEL,
                       font=dict(size=14.5, color='black', family='DejaVu Sans')))
    for (y0, y1) in ROWS_PX:
        annots.append(dict(xref='paper', yref='paper', x=px_x(x0 - 39), y=px_y((y0 + y1) / 2),
                           xanchor='center', yanchor='middle', showarrow=False, text=YLABEL, textangle=-90,
                           font=dict(size=14.5, color='black', family='DejaVu Sans')))

annots.append(dict(xref='paper', yref='paper', x=px_x(86), y=px_y(233), xanchor='left', yanchor='middle',
                   showarrow=False, text='Traditional Method',
                   font=dict(size=14, color='green', family='DejaVu Sans')))
annots.append(dict(xref='paper', yref='paper', x=px_x(86), y=px_y(437), xanchor='left', yanchor='middle',
                   showarrow=False, text='Optimized Method',
                   font=dict(size=14, color='blue', family='DejaVu Sans')))
annots.append(dict(xref='paper', yref='paper', x=px_x(505), y=px_y(14), xanchor='center', yanchor='middle',
                   showarrow=False, text=HEADER,
                   font=dict(size=20.5, color='black', family='Liberation Serif')))
annots.append(dict(xref='paper', yref='paper', x=px_x(1011), y=px_y(14), xanchor='center', yanchor='middle',
                   showarrow=False, text=PAGE_NO,
                   font=dict(size=20.5, color='black', family='Liberation Serif')))

fig.update_layout(width=W, height=H, margin=dict(l=0, r=0, t=0, b=0), paper_bgcolor='white',
                  plot_bgcolor='white', showlegend=False, shapes=shapes, annotations=annots,
                  font=dict(family='DejaVu Sans'), **layout)

fig.write_html('out.html')
